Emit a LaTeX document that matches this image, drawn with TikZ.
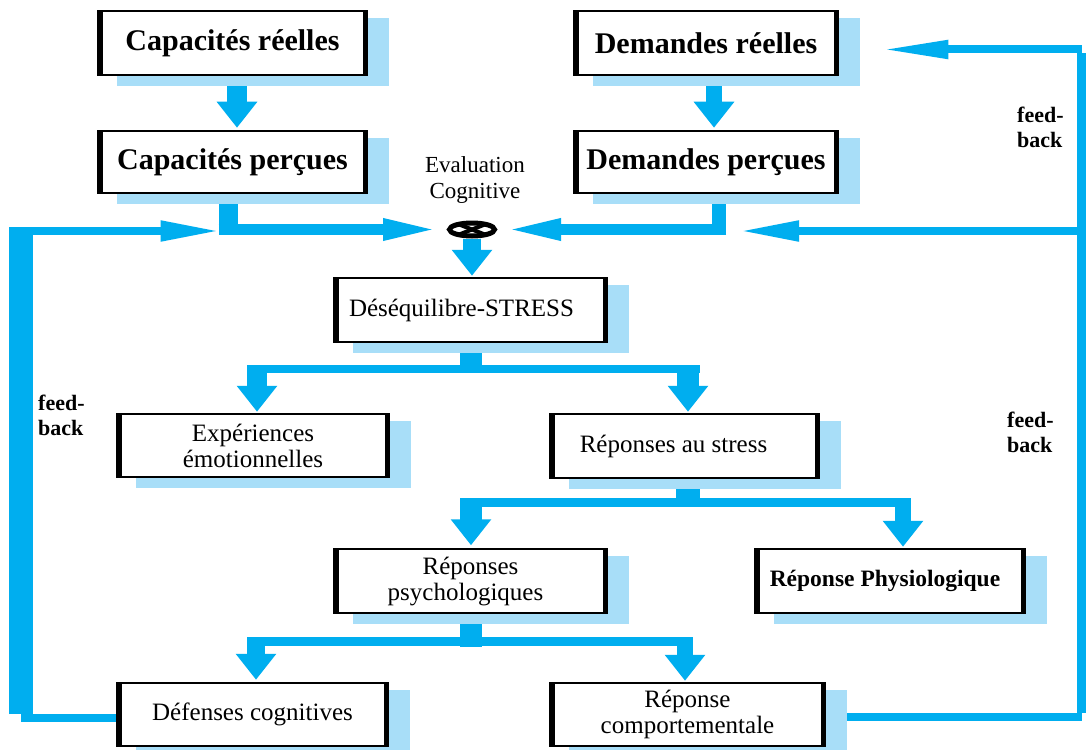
\documentclass[tikz,border=0pt]{standalone}
\usepackage{fontspec}
\setmainfont{Liberation Serif}
\usetikzlibrary{arrows.meta,shapes.geometric,calc}
\definecolor{fblue}{RGB}{0,174,239}
\definecolor{sblue}{RGB}{168,222,248}
\pgfdeclarelayer{lineslayer}
\pgfdeclarelayer{shadowlayer}
\pgfsetlayers{lineslayer,shadowlayer,main}
\tikzset{
  box/.style={draw=black, line width=2.5pt, fill=white, inner sep=0pt, align=center},
  bigbox/.style={box, font=\fontsize{30}{36}\selectfont\bfseries},
  midbox/.style={box, font=\fontsize{25}{26}\selectfont},
  downarrow/.style={draw=fblue, line width=20pt, -{Triangle[length=26pt,width=39pt]}},
  stemline/.style={draw=fblue, line width=20pt},
  branchline/.style={draw=fblue, line width=8.5pt},
  feedline/.style={draw=fblue, line width=8pt},
  spiketip/.style={-{Triangle[length=60pt,width=19pt]}},
  lbl/.style={font=\fontsize{22}{25}\selectfont\bfseries, align=left, inner sep=0pt},
}
\begin{document}
\begin{tikzpicture}[x=1pt,y=-1pt]
\useasboundingbox (0,0) rectangle (1086,749);

% boxes
\node[bigbox, minimum width=269pt, minimum height=64pt] (cr) at (232.5,43) {Capacités réelles};
\node[bigbox, minimum width=269pt, minimum height=62pt] (cp) at (232.5,162) {Capacités perçues};
\node[bigbox, minimum width=264pt, minimum height=64pt] (dr) at (706,43) {Demandes réelles};
\node[bigbox, minimum width=264pt, minimum height=62pt] (dp) at (706,162) {Demandes perçues};
\node[midbox, minimum width=273pt, minimum height=64pt] (ds) at (470.5,310) {Déséquilibre-STRESS\hspace*{18pt}};
\node[midbox, minimum width=272pt, minimum height=63pt] (ee) at (253,445.5) {Expériences\\émotionnelles};
\node[midbox, minimum width=269pt, minimum height=64pt] (rs) at (684.5,446) {Réponses au stress\hspace*{22pt}};
\node[midbox, minimum width=273pt, minimum height=64pt] (rp) at (470.5,581) {Réponses\\psychologiques\hspace*{10pt}};
\node[box, font=\fontsize{23.5}{26}\selectfont\bfseries, minimum width=270pt, minimum height=64pt] (ph) at (890,581) {Réponse Physiologique\hspace*{10pt}};
\node[midbox, minimum width=271pt, minimum height=63pt] (dc) at (252.5,714.5) {Défenses cognitives};
\node[midbox, minimum width=275pt, minimum height=63pt] (rc) at (687.5,714.5) {Réponse\\comportementale};

% thick left and right sides of the boxes
\foreach \n in {cr,cp,dr,dp,ds,ee,rs,rp,ph,dc,rc}{
  \fill[black] (\n.north west) rectangle ([xshift=6pt]\n.south west);
  \fill[black] ([xshift=-5pt]\n.north east) rectangle (\n.south east);
}

% evaluation symbol
\node[ellipse, draw=black, line width=5pt, fill=white, minimum width=45pt, minimum height=13pt, inner sep=0pt] (ev) at (472,229.5) {};
\draw[line width=4pt] ([shift={(-14,-5.5)}]ev.center) -- ([shift={(14,5.5)}]ev.center);
\draw[line width=4pt] ([shift={(-14,5.5)}]ev.center) -- ([shift={(14,-5.5)}]ev.center);
\node[font=\fontsize{23}{26}\selectfont, align=center, inner sep=0pt] (evl) at (475,180) {Evaluation\\Cognitive};

% feed-back labels
\node[lbl, anchor=west] (fb1) at (1017,127) {feed-\\back};
\node[lbl, anchor=west] (fb2) at (38,415) {feed-\\back};
\node[lbl, anchor=west] (fb3) at (1007,432) {feed-\\back};

% shadows
\begin{pgfonlayer}{shadowlayer}
\foreach \n in {cr,cp,dr,dp,ds,ee,rs,rp,ph,dc,rc}{
  \fill[sblue] ([xshift=20pt,yshift=-8pt]\n.north west) rectangle ([xshift=21pt,yshift=-10pt]\n.south east);
}
\end{pgfonlayer}

% connectors
\begin{pgfonlayer}{lineslayer}
\fill[white] (0,0) rectangle (1086,749);
% top vertical arrows
\draw[downarrow] ([xshift=4.5pt]cr.south) -- ([xshift=4.5pt,yshift=2pt]cp.north);
\draw[downarrow, line width=16pt] ([xshift=8pt]dr.south) -- ([xshift=8pt,yshift=2pt]dp.north);

% perceived capacities / demands to evaluation
\draw[stemline, line width=19pt] ([xshift=-4.5pt]cp.south) -- ++(0,41);
\coordinate (cpj) at (218.5,229.5);
\draw[draw=fblue, line width=11pt, spiketip] (cpj) -- ([xshift=-4pt]ev.west);
\draw[stemline, line width=14pt] ([xshift=13pt]dp.south) -- ++(0,41);
\coordinate (dpj) at (726,229.5);
\draw[draw=fblue, line width=11pt, spiketip] (dpj) -- ([xshift=4pt]ev.east);

% evaluation to stress
\draw[downarrow, line width=18pt] (ev.south) -- ([xshift=1.5pt,yshift=1pt]ds.north);

% stress branches
\draw[stemline, line width=22pt] (ds.south) -- ++(0,30);
\coordinate (dsl) at (247,369);
\coordinate (dsr) at (700,369);
\draw[branchline] (dsl) -- (dsr);
\draw[downarrow] ([xshift=4pt]ee.north |- 0,365) -- ([xshift=4pt,yshift=1pt]ee.north);
\draw[downarrow, line width=22pt] ([xshift=3.5pt]rs.north |- 0,365) -- ([xshift=3.5pt,yshift=1pt]rs.north);

% response branches
\draw[stemline, line width=24pt] ([xshift=3.5pt]rs.south) -- ++(0,28);
\coordinate (rsl) at (460,502.5);
\coordinate (rsr) at (911,502.5);
\draw[branchline, line width=9pt] (rsl) -- (rsr);
\draw[downarrow, line width=22pt] ([xshift=0.5pt]rp.north |- 0,498) -- ([xshift=0.5pt,yshift=2.5pt]rp.north);
\draw[downarrow, line width=16pt] ([xshift=13pt]ph.north |- 0,498) -- ([xshift=13pt,yshift=1pt]ph.north);

% psychological branches
\draw[stemline, line width=22pt] (rp.south) -- ++(0,33);
\coordinate (rpl) at (247,641.5);
\coordinate (rpr) at (693,641.5);
\draw[branchline] (rpl) -- (rpr);
\draw[downarrow, line width=18pt] ([xshift=3.5pt]dc.north |- 0,637) -- ([xshift=3.5pt,yshift=2pt]dc.north);
\draw[downarrow, line width=16pt] ([xshift=-2.5pt]rc.north |- 0,637) -- ([xshift=-2.5pt,yshift=1pt]rc.north);

% left feedback
\coordinate (lfb) at (21,718);
\coordinate (lft) at (21,231);
\draw[feedline] ([yshift=-3.5pt]dc.west) -- (lfb);
\draw[draw=fblue, line width=24pt] ([yshift=4pt]lfb) -- ([yshift=-4pt]lft);
\draw[feedline, spiketip] ([xshift=-12pt]lft) -- ([xshift=-12pt]cp.south |- lft);

% right feedback
\coordinate (rfb) at (1081.5,717);
\coordinate (rft) at (1081.5,49.5);
\coordinate (rfm) at (1081.5,231);
\draw[feedline] ([yshift=-2.5pt]rc.east) -- (rfb);
\draw[draw=fblue, line width=9pt] ([yshift=4.5pt]rfb) -- ([yshift=-4pt]rft);
\draw[feedline, -{Triangle[length=68pt,width=17pt]}] (rft) -- ([xshift=41pt]dr.east |- rft);
\draw[feedline, spiketip] (rfm) -- ([xshift=13pt]dpj |- rfm);
\end{pgfonlayer}
\end{tikzpicture}
\end{document}
